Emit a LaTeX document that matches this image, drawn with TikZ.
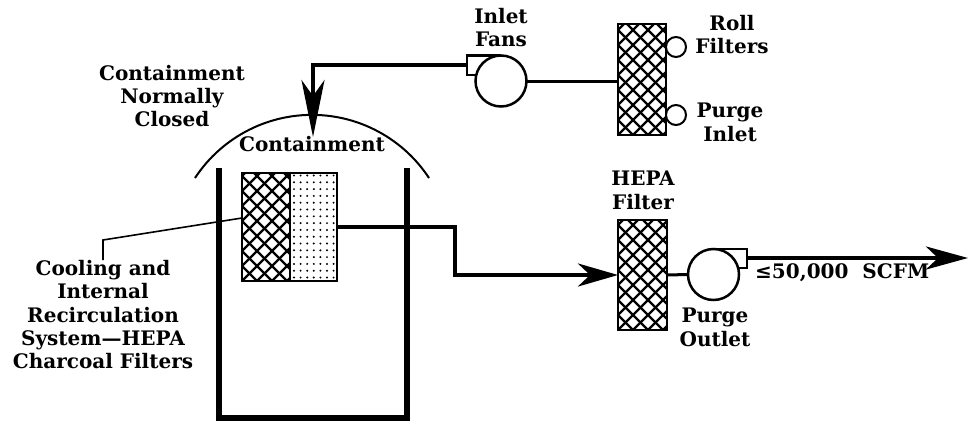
\documentclass[tikz,border=0pt]{standalone}
\usepackage{fontspec}
\setmainfont{DejaVu Serif}
\usetikzlibrary{positioning,arrows.meta}

\tikzset{
  lbl/.style={font=\bfseries\fontsize{20}{23.3}\selectfont, align=center, inner sep=0pt},
  duct/.style={line width=4pt},
  pipe/.style={line width=3pt},
  wall/.style={line width=6pt, line join=miter},
  dome/.style={line width=2pt},
  leader/.style={line width=1.6pt},
  fanline/.style={line width=2.5pt},
  fan/.style={circle, draw, line width=2.5pt, minimum size=51pt, inner sep=0pt, outer sep=0pt},
  knob/.style={circle, draw, line width=2pt, minimum size=20pt, inner sep=0pt, outer sep=0pt},
  hatchbox/.style={draw, line width=2.5pt, outer sep=0pt, inner sep=0pt,
    path picture={
      \foreach \k in {-10,...,10}{
        \draw[line width=2.3pt] ([xshift=\k*15pt]path picture bounding box.south west) -- ++(150pt,150pt);
        \draw[line width=2.3pt] ([xshift=\k*15pt]path picture bounding box.south west) -- ++(-150pt,150pt);
      }
    }},
  dotbox/.style={draw, line width=2.5pt, outer sep=0pt, inner sep=0pt,
    path picture={
      \foreach \i in {0,...,6}
        \foreach \j in {0,...,15}
          \fill ([shift={(\i*6.6pt+4pt,\j*6.8pt+3.5pt)}]path picture bounding box.south west) circle[radius=1.1pt];
    }},
}

\begin{document}
\begin{tikzpicture}[x=1pt,y=-1pt]
\useasboundingbox (0,0) rectangle (969,426);
% containment vessel and dome
\draw[wall] (219,168) -- (219,418) -- (407,418) -- (407,168);
\draw[dome] (195,178) arc[start angle=-146.7, end angle=-33.3, radius=140];
\node[lbl, anchor=north] (contlbl) at (312,136) {Containment};
\node[lbl, anchor=north] (closedlbl) at (172,65) {Containment\\Normally\\Closed};
% cooling / recirculation filters
\node[hatchbox, minimum width=48pt, minimum height=108pt] (cfilt) at (266,227) {};
\node[dotbox, minimum width=47pt, minimum height=108pt, right=0pt of cfilt] (cchar) {};
\node[lbl, anchor=north] (coollbl) at (103,260) {Cooling and\\Internal\\Recirculation\\System---HEPA\\Charcoal Filters};
\draw[leader] (coollbl.north) -- ++(0,-20) -- ([yshift=9pt]cfilt.west);
% purge inlet side
\node[fan] (infan) at (501,81) {};
\draw[fanline] (infan.north) -- (467,55.5) -- (467,75) -- (477,75);
\coordinate (infanin) at (467,65);
\coordinate (domein) at (313,137);
\draw[duct, -{Stealth[length=57pt,width=23pt,inset=16pt]}] (infanin) -| (domein);
\node[hatchbox, minimum width=48pt, minimum height=111pt] (rollf) at (642,79.5) {};
\draw[pipe] (infan.east) -- (infan.east -| rollf.west);
\node[knob] (rollk) at (676,47) {};
\node[knob] (purgek) at (676,115) {};
\node[lbl, anchor=north] (fanlbl) at (501,8) {Inlet\\Fans};
\node[lbl, anchor=north] (rolllbl) at (732,15) {Roll\\Filters};
\node[lbl, anchor=north] (purgeinlbl) at (730,103) {Purge\\Inlet};
% purge outlet side
\node[hatchbox, minimum width=49pt, minimum height=110pt] (hepa) at (642.5,275) {};
\draw[duct, -{Stealth[length=40pt,width=23pt,inset=12pt]}] (cchar.east) -- ++(118,0) |- (hepa.west);
\node[lbl, anchor=north] (hepalbl) at (643,171) {HEPA\\Filter};
\node[fan] (ofan) at (713.5,274.5) {};
\draw[pipe] (hepa.east) -- (ofan.west);
\draw[fanline] (ofan.north) -- (747,249) -- (747,268) -- (738,268);
\coordinate (ofanexit) at (747,258);
\coordinate (exit) at (968,258);
\draw[duct, -{Stealth[length=42pt,width=23pt,inset=12pt]}] (ofanexit) -- (exit);
\node[lbl, anchor=north west] (scfmlbl) at (755,263) {≤50,000~~SCFM};
\node[lbl, anchor=north] (purgeoutlbl) at (715,308) {Purge\\Outlet};
\end{tikzpicture}
\end{document}
